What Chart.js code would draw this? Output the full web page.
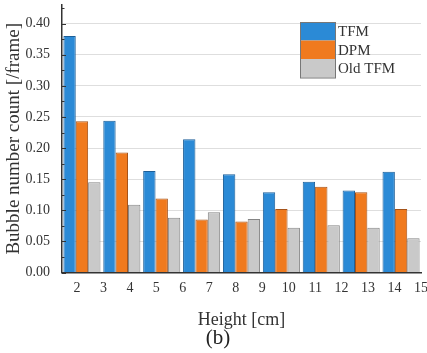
<!DOCTYPE html>
<html>
<head>
<meta charset="utf-8">
<script src="https://cdn.jsdelivr.net/npm/chart.js@4.4.1/dist/chart.umd.min.js"></script>
<style>
  html, body { margin: 0; padding: 0; background: #fff; overflow: hidden; }
  #wrap { position: relative; width: 427px; height: 353px; }
  #panel { position: absolute; left: 193px; top: 325px; width: 50px; text-align: center;
           font: 21px "Liberation Serif", serif; color: #222; line-height: 24px; }
</style>
</head>
<body>
<div id="wrap">
  <canvas id="bubble-count-chart" width="427" height="353"></canvas>
  <div id="panel">(b)</div>
</div>
<script>
const groups = ['1', '2', '3', '4', '5', '6', '7', '8', '9'];
const heightTicks = [2, 3, 4, 5, 6, 7, 8, 9, 10, 11, 12, 13, 14, 15];
const tfm    = [0.380, 0.244, 0.163, 0.214, 0.158, 0.129, 0.146, 0.132, 0.162];
const dpm    = [0.243, 0.193, 0.119, 0.085, 0.082, 0.102, 0.138, 0.129, 0.102];
const oldTfm = [0.145, 0.109, 0.088, 0.097, 0.086, 0.072, 0.076, 0.072, 0.055];

const serif = 'Liberation Serif';
const ink = '#333';

// inward y ticks (major + minor) and the boxed legend in the top right
const frameMarks = {
    id: 'frameMarks',
    afterDraw(chart) {
        const ctx = chart.ctx;
        const y = chart.scales.y;
        const left = chart.chartArea.left;
        ctx.save();
        ctx.strokeStyle = ink;
        ctx.lineWidth = 1;
        for (let i = 0; i <= 17; i++) {
            const py = Math.round(y.getPixelForValue(i * 0.025)) + 0.5;
            const len = i % 2 === 0 ? 4 : 2.5;
            ctx.beginPath();
            ctx.moveTo(left, py);
            ctx.lineTo(left + len, py);
            ctx.stroke();
        }

        const bx = 300, by = 22, bw = 35, bh = 18.5;
        ctx.font = '15px "' + serif + '"';
        ctx.textBaseline = 'middle';
        chart.data.datasets.forEach((ds, i) => {
            const top = by + i * bh;
            ctx.fillStyle = ds.backgroundColor;
            ctx.fillRect(bx, top, bw, bh);
            ctx.fillStyle = ink;
            ctx.fillText(ds.label, bx + 38, top + bh / 2 + 1);
        });
        ctx.strokeStyle = '#777';
        ctx.strokeRect(bx + 0.5, by + 0.5, bw, bh * 3);
        ctx.restore();
    }
};

const ctx1 = document.getElementById('bubble-count-chart').getContext('2d');
const data = {
    labels: groups,
    datasets: [{
        label: 'TFM',
        data: tfm,
        backgroundColor: '#2b8ad6',
        borderColor: '#1d5f98',
        borderWidth: 1
    }, {
        label: 'DPM',
        data: dpm,
        backgroundColor: '#f07a1e',
        borderColor: '#a5531a',
        borderWidth: 1
    }, {
        label: 'Old TFM',
        data: oldTfm,
        backgroundColor: '#c9c9c9',
        borderColor: '#858585',
        borderWidth: 1
    }]
};

new Chart(ctx1, {
    type: 'bar',
    data: data,
    plugins: [frameMarks],
    options: {
        responsive: false,
        animation: false,
        devicePixelRatio: 1,
        categoryPercentage: 0.93,
        barPercentage: 1.0,
        layout: { padding: { top: 5, right: 6, left: 0, bottom: 0 } },
        plugins: {
            legend: { display: false },
            tooltip: { enabled: false }
        },
        scales: {
            x: { display: false, offset: true },
            x2: {
                type: 'linear',
                position: 'bottom',
                offset: false,
                min: 1.434,
                max: 15,
                afterBuildTicks: s => { s.ticks = heightTicks.map(v => ({ value: v })); },
                afterFit: s => { s.paddingLeft = 0; s.paddingRight = 0; s.height = 80.5; },
                ticks: {
                    padding: 7,
                    autoSkip: false,
                    maxRotation: 0,
                    color: ink,
                    font: { family: serif, size: 14 },
                    callback: v => String(v)
                },
                grid: { display: false, drawTicks: false, offset: false },
                border: { color: ink, width: 1.5 },
                title: {
                    display: true,
                    text: 'Height [cm]',
                    color: ink,
                    font: { family: serif, size: 18 },
                    padding: { top: 0, bottom: 22 }
                }
            },
            y: {
                min: 0,
                max: 0.43,
                afterBuildTicks: s => { s.ticks = s.ticks.filter(t => t.value <= 0.4001); },
                afterFit: s => { s.width = 62; s.paddingTop = 0; s.paddingBottom = 0; },
                ticks: {
                    stepSize: 0.05,
                    padding: 12,
                    color: ink,
                    font: { family: serif, size: 14 },
                    callback: v => v.toFixed(2)
                },
                grid: {
                    drawTicks: false,
                    color: c => (c.tick && c.tick.value === 0 ? 'rgba(0,0,0,0)' : '#dedede')
                },
                border: { color: ink, width: 1.5 },
                title: {
                    display: true,
                    text: 'Bubble number count [/frame]',
                    color: ink,
                    font: { family: serif, size: 19 },
                    padding: { top: 3, bottom: 0 }
                }
            }
        }
    }
});
</script>
</body>
</html>
